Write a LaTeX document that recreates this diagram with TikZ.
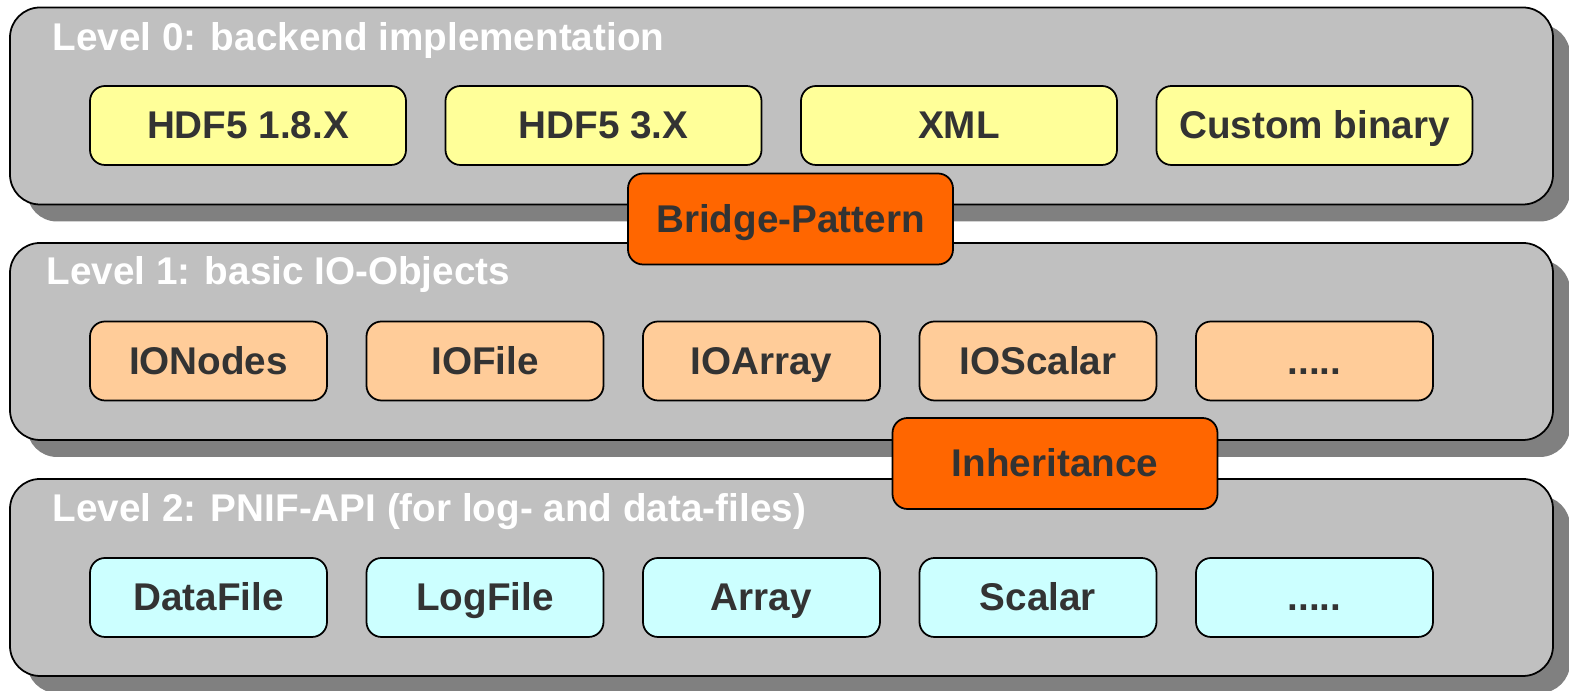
\documentclass[tikz,border=0pt]{standalone}
\usepackage{fontspec}
\setmainfont{Liberation Sans}
\usepackage{tikz}
\usetikzlibrary{shadows}
\definecolor{panelgray}{HTML}{C0C0C0}
\definecolor{shadowgray}{HTML}{808080}
\definecolor{backendyellow}{HTML}{FFFF99}
\definecolor{ioorange}{HTML}{FFCC99}
\definecolor{apicyan}{HTML}{CCFFFF}
\definecolor{patternorange}{HTML}{FF6600}
\definecolor{labelgray}{HTML}{333333}
\newcommand{\moredots}{.....}

\begin{document}
\begin{tikzpicture}[
    panel/.style={draw=black, fill=panelgray, rounded corners=0.3cm, line width=0.5pt,
      minimum width=15.43cm, minimum height=1.97cm,
      drop shadow={shadow xshift=0.17cm, shadow yshift=-0.17cm, fill=shadowgray, opacity=1}},
    leveltitle/.style={anchor=base west, inner sep=0pt, text=white,
      font=\fontsize{11}{13}\selectfont\bfseries},
    item/.style={draw=black, rounded corners=0.15cm, line width=0.5pt, inner sep=0pt,
      text=labelgray, font=\fontsize{11}{13}\selectfont\bfseries,
      text height=0.33cm, text depth=0.06cm, minimum height=0.79cm},
    pattern/.style={item, fill=patternorange, minimum width=3.25cm, minimum height=0.91cm}
  ]
    \useasboundingbox (0,0) rectangle (15.69,-6.91);

    % levels
    \node[panel] (level0) at (7.815,-1.06) {};
    \node[panel] (level1) at (7.815,-3.415) {};
    \node[panel] (level2) at (7.815,-5.775) {};
    \node[leveltitle] (level0title) at (0.52,-0.51) {Level 0: backend implementation};
    \node[leveltitle] (level1title) at (0.46,-2.85) {Level 1: basic IO-Objects};
    \node[leveltitle] (level2title) at (0.52,-5.22) {Level 2: PNIF-API (for log- and data-files)};

    % level 0
    \foreach \x/\name/\txt in {2.48/hdfold/HDF5 1.8.X, 6.035/hdfnew/HDF5 3.X,
        9.59/xml/XML, 13.145/custom/Custom binary}
      \node[item, fill=backendyellow, minimum width=3.16cm] (\name) at (\x,-1.255) {\txt};

    % level 1
    \foreach \x/\name/\txt in {2.085/ionodes/IONodes, 4.85/iofile/IOFile,
        7.615/ioarray/IOArray, 10.38/ioscalar/IOScalar, 13.145/iomore/\moredots}
      \node[item, fill=ioorange, minimum width=2.37cm] (\name) at (\x,-3.61) {\txt};

    % level 2
    \foreach \x/\name/\txt in {2.085/datafile/DataFile, 4.85/logfile/LogFile,
        7.615/array/Array, 10.38/scalar/Scalar, 13.145/apimore/\moredots}
      \node[item, fill=apicyan, minimum width=2.37cm] (\name) at (\x,-5.975) {\txt};

    \node[pattern] (bridge) at (7.905,-2.19) {Bridge-Pattern};
    \node[pattern] (inherit) at (10.55,-4.635) {Inheritance};
\end{tikzpicture}
\end{document}
